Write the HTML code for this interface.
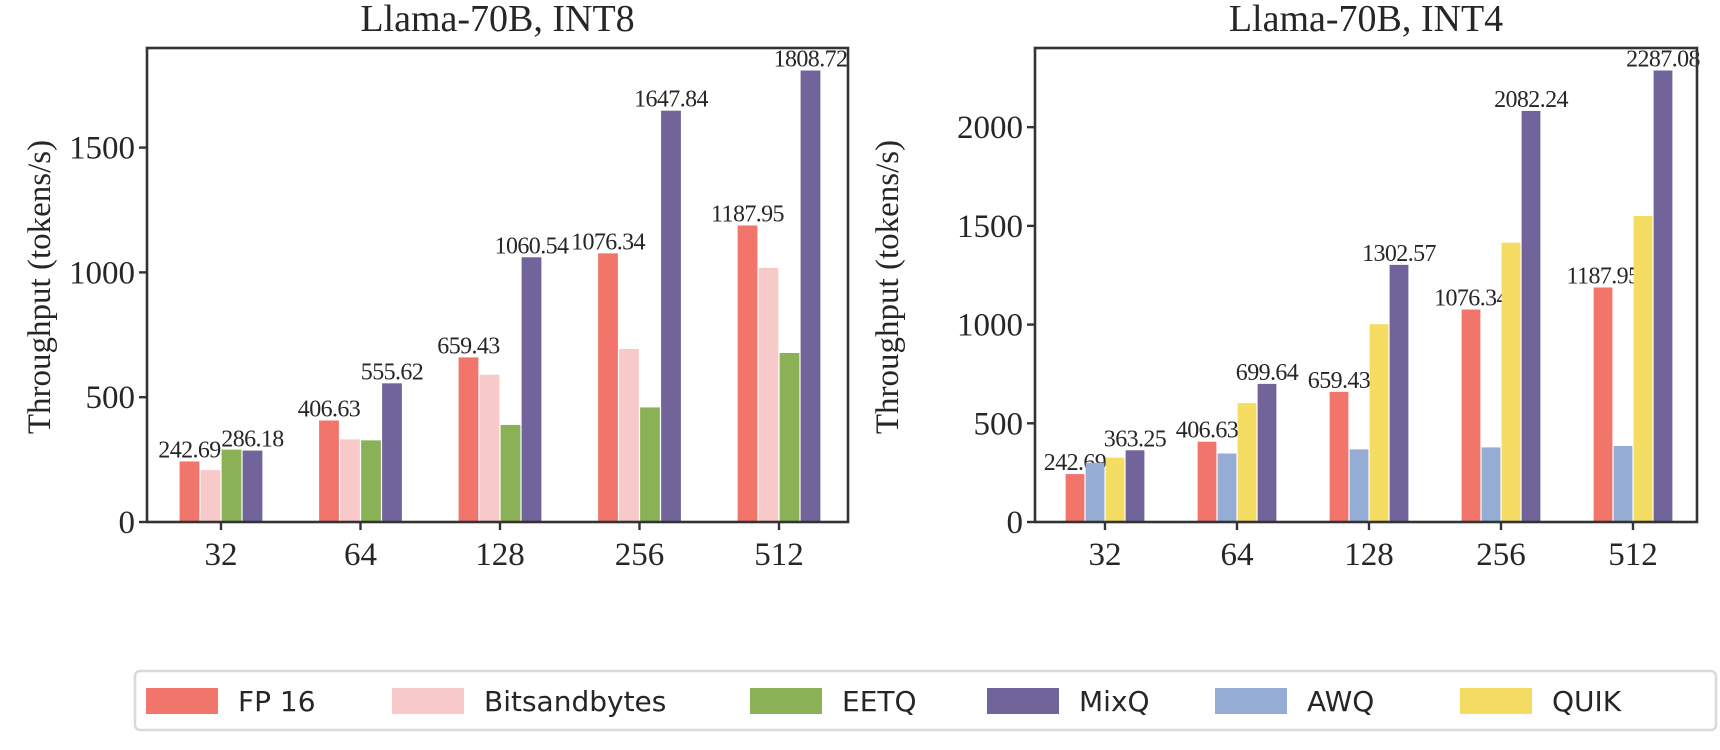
<!DOCTYPE html>
<html><head><meta charset="utf-8"><style>
html,body{margin:0;padding:0;background:#fff;}
svg{display:block;}
.serif{font-family:"Liberation Serif","DejaVu Serif",serif;fill:#262626;}
.sans{font-family:"DejaVu Sans","Liberation Sans",sans-serif;fill:#262626;}
</style></head><body>
<svg id="chart" width="1720" height="750" viewBox="0 0 1720 750"></svg>
<script>
const categories = ["32","64","128","256","512"];
// Left panel: Llama-70B, INT8
const leftFP16 = [242.69,406.63,659.43,1076.34,1187.95];
const leftBnb = [208,331,590,693,1018];
const leftEETQ = [290,327,389,459,677];
const leftMixQ = [286.18,555.62,1060.54,1647.84,1808.72];
const leftTicks = [0,500,1000,1500];
// Right panel: Llama-70B, INT4
const rightFP16 = [242.69,406.63,659.43,1076.34,1187.95];
const rightAWQ = [300,347,368,378,385];
const rightQUIK = [326,602,1002,1415,1550];
const rightMixQ = [363.25,699.64,1302.57,2082.24,2287.08];
const rightTicks = [0,500,1000,1500,2000];

const NS="http://www.w3.org/2000/svg";
const svg=document.getElementById('chart');
function mk(tag,attrs,parent){const e=document.createElementNS(NS,tag);for(const k in attrs)e.setAttribute(k,attrs[k]);(parent||svg).appendChild(e);return e;}
const COL={fp16:"#f1756b",bnb:"#f7c9c9",eetq:"#8ab155",mixq:"#71649a",awq:"#95acd5",quik:"#f5dc62"};

function panel(cfg){
  const g=mk('g',{});
  
  
  const top=48,bottom=522;
  const ymax=cfg.ymax;
  const y=v=>bottom-(v/ymax)*(bottom-top);
  const x=i=>cfg.c0+i*cfg.step;
  const bw=cfg.bw;
  const t=mk('text',{x:(cfg.left+cfg.right)/2,y:31,'text-anchor':'middle','font-size':38,class:'serif'},g);
  t.textContent=cfg.title;
  
  
  cfg.series.forEach((s,si)=>{
    s.vals.forEach((v,i)=>{
      const cx=x(i)+(si-1.5)*bw;
      const r=mk('rect',{x:cx-bw/2+0.6,y:y(v),width:bw-1.2,height:bottom-y(v),fill:s.color},g);
      
      
      if(s.label){
        const tx=mk('text',{x:cx,y:y(v)-4,'text-anchor':'middle','font-size':24,class:'serif','letter-spacing':'-0.6'},g);
        tx.textContent=v.toFixed(2);
        
        
      }
    });
  });
  const f=mk('rect',{x:cfg.left,y:top,width:cfg.right-cfg.left,height:bottom-top,fill:'none',stroke:'#333','stroke-width':2.6},g);
  
  
  cfg.ticks.forEach(tv=>{
    mk('line',{x1:cfg.left-8,x2:cfg.left,y1:y(tv),y2:y(tv),stroke:'#333','stroke-width':2.4},g);
    const tl=mk('text',{x:cfg.left-12,y:y(tv)+11,'text-anchor':'end','font-size':33,class:'serif'},g);
    tl.textContent=tv;
    
    
  });
  categories.forEach((c,i)=>{
    mk('line',{x1:x(i),x2:x(i),y1:bottom,y2:bottom+8,stroke:'#333','stroke-width':2.4},g);
    const tl=mk('text',{x:x(i),y:565,'text-anchor':'middle','font-size':33,class:'serif'},g);
    tl.textContent=c;
    
    
  });
  const yl=mk('text',{x:0,y:0,transform:`translate(${cfg.ylx},287) rotate(-90)`,'text-anchor':'middle','font-size':33,class:'serif'},g);
  yl.textContent='Throughput (tokens/s)';
  
  
}

panel({name:'panel-int8',title:'Llama-70B, INT8',left:147,right:848,c0:221,step:139.5,bw:21,ymax:1899,ticks:leftTicks,ylx:50,
  series:[{key:'fp16',vals:leftFP16,color:COL.fp16,label:true},{key:'bnb',vals:leftBnb,color:COL.bnb},{key:'eetq',vals:leftEETQ,color:COL.eetq},{key:'mixq',vals:leftMixQ,color:COL.mixq,label:true}]});
panel({name:'panel-int4',title:'Llama-70B, INT4',left:1035,right:1697,c0:1105,step:132,bw:20,ymax:2401,ticks:rightTicks,ylx:898,
  series:[{key:'fp16',vals:rightFP16,color:COL.fp16,label:true},{key:'awq',vals:rightAWQ,color:COL.awq},{key:'quik',vals:rightQUIK,color:COL.quik},{key:'mixq',vals:rightMixQ,color:COL.mixq,label:true}]});

const lg=mk('g',{});


mk('rect',{x:135,y:671,width:1581,height:59,rx:5,fill:'#fff',stroke:'#d9d9d9','stroke-width':2.5},lg);
const entries=[["FP 16",COL.fp16,146,238],["Bitsandbytes",COL.bnb,392,484],["EETQ",COL.eetq,750,842],["MixQ",COL.mixq,987,1079],["AWQ",COL.awq,1215,1307],["QUIK",COL.quik,1460,1552]];
entries.forEach(e=>{
  const eg=mk('g',{},lg);
  
  
  mk('rect',{x:e[2],y:688,width:72,height:26,fill:e[1]},eg);
  const t=mk('text',{x:e[3],y:711,'font-size':28,class:'sans'},eg);
  t.textContent=e[0];
});
</script>
</body></html>
